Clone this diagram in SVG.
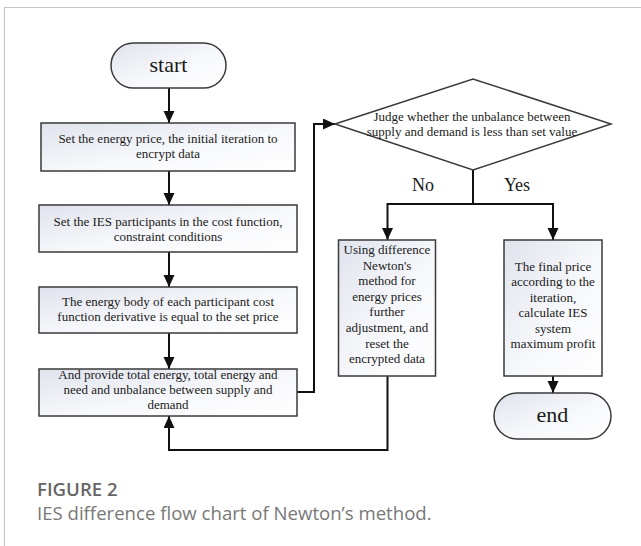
<svg xmlns="http://www.w3.org/2000/svg" width="641" height="546" viewBox="0 0 641 546">
<style>
.box{fill:url(#g);stroke:#3a3a3a;stroke-width:1.5}
.t{font-family:"Liberation Serif","Times New Roman",serif;font-size:13px;fill:#1a1a1a;text-anchor:middle}
.big{font-size:22px}
.lbl{font-size:18px}
.c{fill:none;stroke:#111;stroke-width:2}
.cap{font-family:"Open Sans","Noto Sans",sans-serif}
</style>
<defs>
<linearGradient id="g" x1="0" y1="0" x2="1" y2="1">
<stop offset="0" stop-color="#e0e3ed"/>
<stop offset="0.55" stop-color="#f7f8fb"/>
<stop offset="1" stop-color="#ffffff"/>
</linearGradient>
<marker id="a" markerUnits="userSpaceOnUse" markerWidth="12" markerHeight="12" refX="12" refY="5.5" orient="auto">
<path d="M0,0 L12,5.5 L0,11 z" fill="#111"/>
</marker>
</defs>
<rect x="0" y="0" width="641" height="546" fill="#fff"/>
<path d="M4.5,546 V7.5 H641" fill="none" stroke="#c6c6c6" stroke-width="1.2"/>

<g id="connectors">
<path class="c" d="M169,88 V123" marker-end="url(#a)"/>
<path class="c" d="M169,171 V205" marker-end="url(#a)"/>
<path class="c" d="M169,252 V287" marker-end="url(#a)"/>
<path class="c" d="M169,333 V369" marker-end="url(#a)"/>
<path class="c" d="M297,392 H314 V124 H335" marker-end="url(#a)"/>
<path class="c" d="M473,170 V204"/>
<path class="c" d="M387.5,204 H553"/>
<path class="c" d="M387.5,203 V240" marker-end="url(#a)"/>
<path class="c" d="M553,203 V240" marker-end="url(#a)"/>
<path class="c" d="M553,376 V393" marker-end="url(#a)"/>
<path class="c" d="M387.5,376 V450 H169 V416" marker-end="url(#a)"/>
<text class="t lbl" x="423" y="191">No</text>
<text class="t lbl" x="517" y="191">Yes</text>
</g>

<g id="start">
<rect class="box" x="111" y="43" width="115" height="45" rx="22.5"/>
<text class="t big" x="168.5" y="72">start</text>
</g>

<g id="box1">
<rect class="box" x="41" y="123" width="254" height="48"/>
<text class="t" x="168" y="143">Set the energy price, the initial iteration to</text>
<text class="t" x="168" y="158">encrypt data</text>
</g>

<g id="box2">
<rect class="box" x="39" y="205" width="258" height="47"/>
<text class="t" x="168" y="226">Set the IES participants in the cost function,</text>
<text class="t" x="168" y="241">constraint conditions</text>
</g>

<g id="box3">
<rect class="box" x="39" y="287" width="258" height="46"/>
<text class="t" x="168" y="305.5">The energy body of each participant cost</text>
<text class="t" x="168" y="321">function derivative is equal to the set price</text>
</g>

<g id="box4">
<rect class="box" x="39" y="369" width="258" height="47"/>
<text class="t" x="168" y="379">And provide total energy, total energy and</text>
<text class="t" x="168" y="394">need and unbalance between supply and</text>
<text class="t" x="168" y="409">demand</text>
</g>

<g id="decision">
<polygon points="335,124 473,79 611,124 473,170" fill="#fff" stroke="#3a3a3a" stroke-width="1.5"/>
<text class="t" x="472" y="121">Judge whether the unbalance between</text>
<text class="t" x="472" y="136">supply and demand is less than set value</text>
</g>

<g id="boxNo">
<rect class="box" x="338.5" y="240" width="97" height="136"/>
<text class="t" x="387" y="254">Using difference</text>
<text class="t" x="387" y="269.6">Newton's</text>
<text class="t" x="387" y="285.2">method for</text>
<text class="t" x="387" y="300.8">energy prices</text>
<text class="t" x="387" y="316.4">further</text>
<text class="t" x="387" y="332">adjustment, and</text>
<text class="t" x="387" y="347.6">reset the</text>
<text class="t" x="387" y="363.2">encrypted data</text>
</g>

<g id="boxYes">
<rect class="box" x="504" y="240" width="98" height="136"/>
<text class="t" x="553" y="270.5">The final price</text>
<text class="t" x="553" y="286">according to the</text>
<text class="t" x="553" y="301.6">iteration,</text>
<text class="t" x="553" y="317.2">calculate IES</text>
<text class="t" x="553" y="332.8">system</text>
<text class="t" x="553" y="348.4">maximum profit</text>
</g>

<g id="end">
<rect class="box" x="494" y="393" width="117" height="46" rx="23"/>
<text class="t big" x="552.5" y="422">end</text>
</g>

<g id="caption">
<text class="cap" x="37" y="496" font-size="18.6" font-weight="600" fill="#666">FIGURE 2</text>
<text class="cap" x="37" y="520" font-size="18.6" fill="#787878">IES difference flow chart of Newton’s method.</text>
</g>
</svg>
